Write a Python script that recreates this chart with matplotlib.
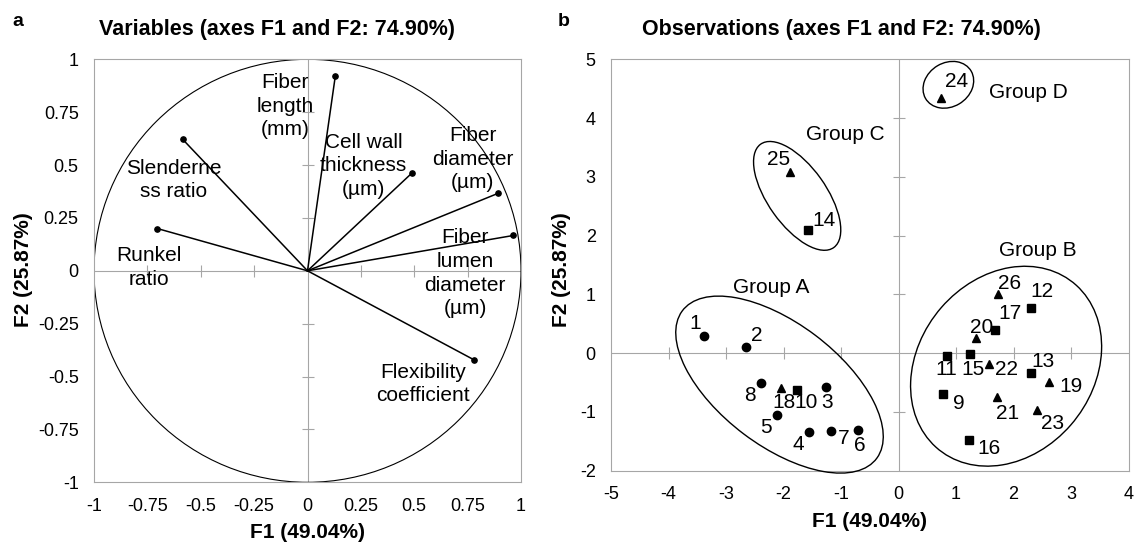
"""
PCA biplot: variables correlation circle (a) and observations scores (b)
Output: out.png
"""
import matplotlib
matplotlib.use("Agg")
import matplotlib.pyplot as plt
from matplotlib.patches import Circle, Ellipse

plt.rcParams["font.family"] = ["Liberation Sans", "DejaVu Sans"]

# ---- data: variables (loadings on F1 / F2) ----
var_names = ["Fiber length (mm)", "Slenderness ratio", "Runkel ratio",
             "Cell wall thickness (µm)", "Fiber diameter (µm)",
             "Fiber lumen diameter (µm)", "Flexibility coefficient"]
var_f1 = [0.130, -0.584, -0.704, 0.490, 0.892, 0.964, 0.780]
var_f2 = [0.919, 0.621, 0.200, 0.463, 0.366, 0.167, -0.421]

# ---- data: observations (scores on F1 / F2) ----
obs_id = list(range(1, 27))
obs_f1 = [-3.38, -2.66, -1.27, -1.56, -2.12, -0.71, -1.18, -2.39,
          0.78, -1.77, 0.85, 2.31, 2.31, -1.57, 1.24, 1.23, 1.68,
          -2.04, 2.61, 1.34, 1.72, 1.58, 2.41, 0.74, -1.89, 1.73]
obs_f2 = [0.29, 0.10, -0.58, -1.34, -1.05, -1.30, -1.33, -0.51,
          -0.69, -0.63, -0.05, 0.77, -0.33, 2.10, -0.01, -1.47, 0.39,
          -0.59, -0.49, 0.26, -0.75, -0.18, -0.96, 4.35, 3.09, 1.01]
obs_kind = ["circle"] * 8 + ["square"] * 9 + ["triangle"] * 9

groups = ["Group A", "Group B", "Group C", "Group D"]

ticks_left = [-1, -0.75, -0.5, -0.25, 0, 0.25, 0.5, 0.75, 1]
ticks_rx = [-5, -4, -3, -2, -1, 0, 1, 2, 3, 4]
ticks_ry = [-2, -1, 0, 1, 2, 3, 4, 5]

# ---- layout ----
var_label_text = {
    "Fiber length (mm)": "Fiber\nlength\n(mm)",
    "Slenderness ratio": "Slenderne\nss ratio",
    "Runkel ratio": "Runkel\nratio",
    "Cell wall thickness (µm)": "Cell wall\nthickness\n(µm)",
    "Fiber diameter (µm)": "Fiber\ndiameter\n(µm)",
    "Fiber lumen diameter (µm)": "Fiber\nlumen\ndiameter\n(µm)",
    "Flexibility coefficient": "Flexibility\ncoefficient",
}
var_label_pos = {
    "Fiber length (mm)": (-0.104, 0.779),
    "Slenderness ratio": (-0.627, 0.429),
    "Runkel ratio": (-0.743, 0.017),
    "Cell wall thickness (µm)": (0.262, 0.496),
    "Fiber diameter (µm)": (0.773, 0.528),
    "Fiber lumen diameter (µm)": (0.739, -0.011),
    "Flexibility coefficient": (0.540, -0.535),
}
# offsets of number labels (points)
num_offset = {
    1: (-6.6, 8.9), 2: (7.9, 8.5), 3: (0.8, -11), 4: (-7.9, -9.3),
    5: (-7.5, -9.3), 6: (1.7, -11.4), 7: (9.5, -5.1), 8: (-7.9, -8.9),
    9: (11.2, -7.2), 10: (7, -8.9), 11: (-0.8, -9.3), 12: (7.5, 11.8),
    13: (8.7, 8), 14: (11.2, 6.3), 15: (2.5, -11), 16: (14.5, -6.3),
    17: (10.4, 12.3), 18: (2, -10.6), 19: (16.1, -3.4), 20: (4.1, 7.2),
    21: (7, -11.4), 22: (12, -3.8), 23: (11.2, -10.2), 24: (10.8, 11.4),
    25: (-8.3, 8.5), 26: (8.3, 7.6),
}
group_label_pos = {"Group A": (-2.21, 1.11), "Group B": (2.42, 1.75),
                   "Group C": (-0.92, 3.72), "Group D": (2.25, 4.44)}
# (center x, center y, width, height, angle) in data units
group_ellipse = {"Group A": (-2.07, -0.535, 4.21, 2.09, -36.4),
                 "Group B": (1.87, -0.222, 3.68, 3.01, 48.4),
                 "Group C": (-1.763, 2.676, 2.17, 1.01, -53.9),
                 "Group D": (0.866, 4.566, 0.92, 0.75, 30)}
markers = {"circle": ("o", 6.0), "square": ("s", 5.6), "triangle": ("^", 6.0)}

GRAY = "#a6a6a6"
W, H = 1135, 544

fig = plt.figure(figsize=(W / 100, H / 100), dpi=100)
axL = fig.add_axes([94 / W, 1 - 482.3 / H, 427 / W, 423 / H])
axR = fig.add_axes([611 / W, 1 - 470.7 / H, 517.6 / W, 411.4 / H])


def frame(ax, xt, yt):
    for s in ax.spines.values():
        s.set_color(GRAY)
        s.set_linewidth(0.8)
    ax.set_xticks(xt)
    ax.set_yticks(yt)
    ax.set_xticklabels([f"{v:g}" for v in xt])
    ax.set_yticklabels([f"{v:g}" for v in yt])
    ax.tick_params(length=0, labelsize=13, pad=11)
    ax.axhline(0, color=GRAY, lw=0.8, zorder=1)
    ax.axvline(0, color=GRAY, lw=0.8, zorder=1)
    inner_x = [v for v in xt[1:-1] if v != 0]
    inner_y = [v for v in yt[1:-1] if v != 0]
    ax.plot(inner_x, [0] * len(inner_x), ls="none", marker="|", ms=8,
            mew=0.8, color=GRAY, zorder=1)
    ax.plot([0] * len(inner_y), inner_y, ls="none", marker="_", ms=8,
            mew=0.8, color=GRAY, zorder=1)


# ---- (a) variables ----
frame(axL, ticks_left, ticks_left)
axL.set_xlim(-1, 1)
axL.set_ylim(-1, 1)
axL.add_patch(Circle((0, 0), 1, fill=False, ec="black", lw=0.8, zorder=2))
for name, x, y in zip(var_names, var_f1, var_f2):
    axL.plot([0, x], [0, y], color="black", lw=1.1, zorder=3)
    axL.plot(x, y, "o", color="black", ms=3.8, zorder=4)
    lx, ly = var_label_pos[name]
    axL.text(lx, ly, var_label_text[name], ha="center", va="center",
             fontsize=15, linespacing=1.32, zorder=5)

# ---- (b) observations ----
frame(axR, ticks_rx, ticks_ry)
axR.set_xlim(-5, 4)
axR.set_ylim(-2, 5)
for i, x, y, k in zip(obs_id, obs_f1, obs_f2, obs_kind):
    m, ms = markers[k]
    axR.plot(x, y, marker=m, ms=ms, color="black", ls="none", zorder=4)
    axR.annotate(str(i), xy=(x, y), xytext=num_offset[i],
                 textcoords="offset points", ha="center", va="center",
                 fontsize=15, zorder=5)
for g in groups:
    cx, cy, w, h, ang = group_ellipse[g]
    axR.add_patch(Ellipse((cx, cy), w, h, angle=ang, fill=False,
                          ec="black", lw=1.0, clip_on=False, zorder=3))
    gx, gy = group_label_pos[g]
    axR.text(gx, gy, g, ha="center", va="center", fontsize=15)

# ---- titles and axis labels ----
fig.text(277.2 / W, 1 - 35 / H, "Variables (axes F1 and F2: 74.90%)",
         ha="center", va="baseline", fontsize=15.5, fontweight="bold")
fig.text(841 / W, 1 - 35 / H, "Observations (axes F1 and F2: 74.90%)",
         ha="center", va="baseline", fontsize=15.5, fontweight="bold")
fig.text(12 / W, 1 - 26 / H, "a", ha="left", va="baseline",
         fontsize=14, fontweight="bold")
fig.text(558 / W, 1 - 26 / H, "b", ha="left", va="baseline",
         fontsize=14, fontweight="bold")
for xc in (23.6, 561.6):
    fig.text(xc / W, 1 - 270 / H, "F2 (25.87%)", rotation=90, ha="center",
             va="center", fontsize=15, fontweight="bold")
fig.text(307.8 / W, 1 - 533 / H, "F1 (49.04%)", ha="center", va="center",
         fontsize=15, fontweight="bold")
fig.text(870 / W, 1 - 521.7 / H, "F1 (49.04%)", ha="center", va="center",
         fontsize=15, fontweight="bold")

fig.savefig("out.png", dpi=100)
